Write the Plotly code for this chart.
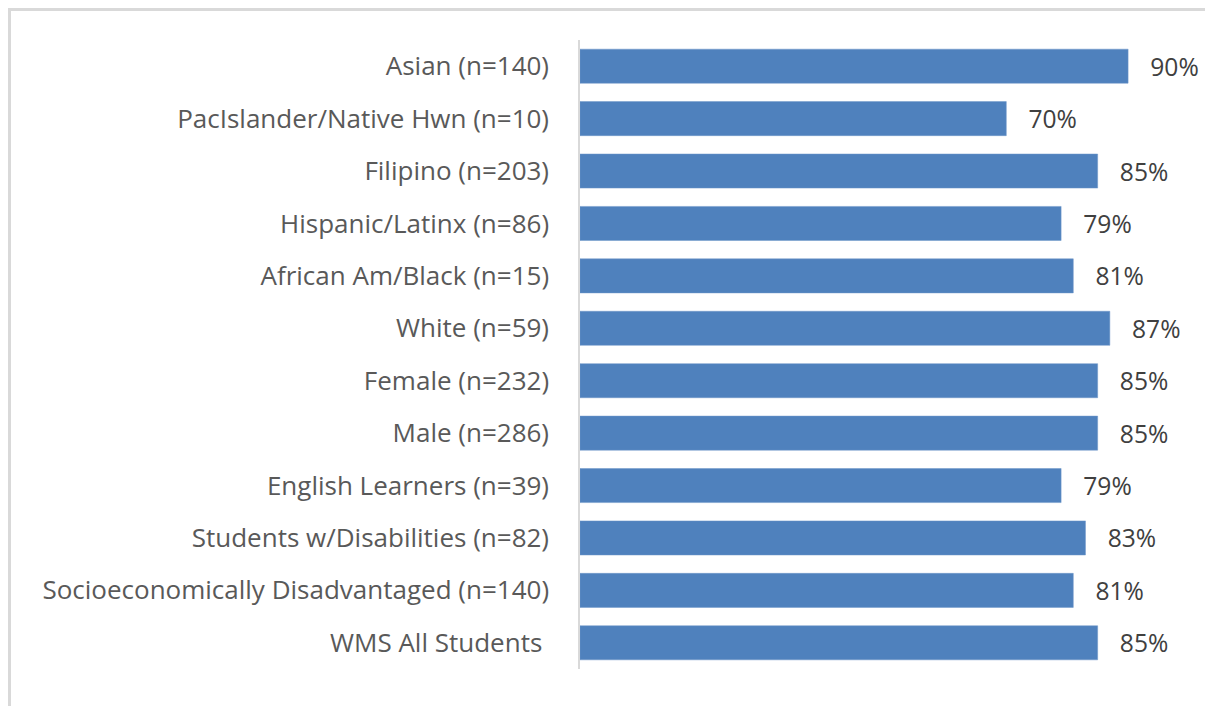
import plotly.graph_objects as go

categories = [
    "Asian (n=140)",
    "PacIslander/Native Hwn (n=10)",
    "Filipino (n=203)",
    "Hispanic/Latinx (n=86)",
    "African Am/Black (n=15)",
    "White (n=59)",
    "Female (n=232)",
    "Male (n=286)",
    "English Learners (n=39)",
    "Students w/Disabilities (n=82)",
    "Socioeconomically Disadvantaged (n=140)",
    "WMS All Students\u00a0",
]
values = [90, 70, 85, 79, 81, 87, 85, 85, 79, 83, 81, 85]

# the page body adds an 8px offset; the figure is sized to fit the window
W, H = 1205, 698
L, R, T, B = 572, 24, 32, 37
pw, ph = W - L - R, H - T - B

fig = go.Figure(
    go.Bar(
        x=values,
        y=categories,
        orientation="h",
        marker=dict(color="#4f81bd", line=dict(color="#6f97c8", width=0.5)),
        width=0.65,
        text=values,
        texttemplate="\u00a0\u00a0\u00a0%{x}%",
        textposition="outside",
        cliponaxis=False,
        textfont=dict(family="Open Sans", size=26, color="#404040"),
        hoverinfo="skip",
    )
)

fig.update_layout(
    width=W,
    height=H,
    margin=dict(l=L, r=R, t=T, b=B),
    paper_bgcolor="white",
    plot_bgcolor="white",
    showlegend=False,
    bargap=0.35,
    font=dict(family="Open Sans", size=26, color="#595959"),
    xaxis=dict(
        range=[0, 100],
        visible=False,
        showgrid=False,
        zeroline=False,
    ),
    yaxis=dict(
        categoryorder="array",
        categoryarray=categories,
        autorange="reversed",
        showline=True,
        linecolor="#d9d9d9",
        linewidth=1.5,
        showgrid=False,
        ticks="",
        ticklabelstandoff=24,
        tickfont=dict(family="Open Sans", size=26, color="#595959"),
    ),
    shapes=[
        dict(
            type="rect",
            xref="paper",
            yref="paper",
            x0=(1.5 - L) / pw,
            x1=(W + 20 - L) / pw,
            y0=-(B + 20) / ph,
            y1=1 + (T - 1.5) / ph,
            line=dict(color="#d9d9d9", width=3),
            fillcolor="rgba(0,0,0,0)",
            layer="below",
        )
    ],
)

fig.write_html("out.html")
